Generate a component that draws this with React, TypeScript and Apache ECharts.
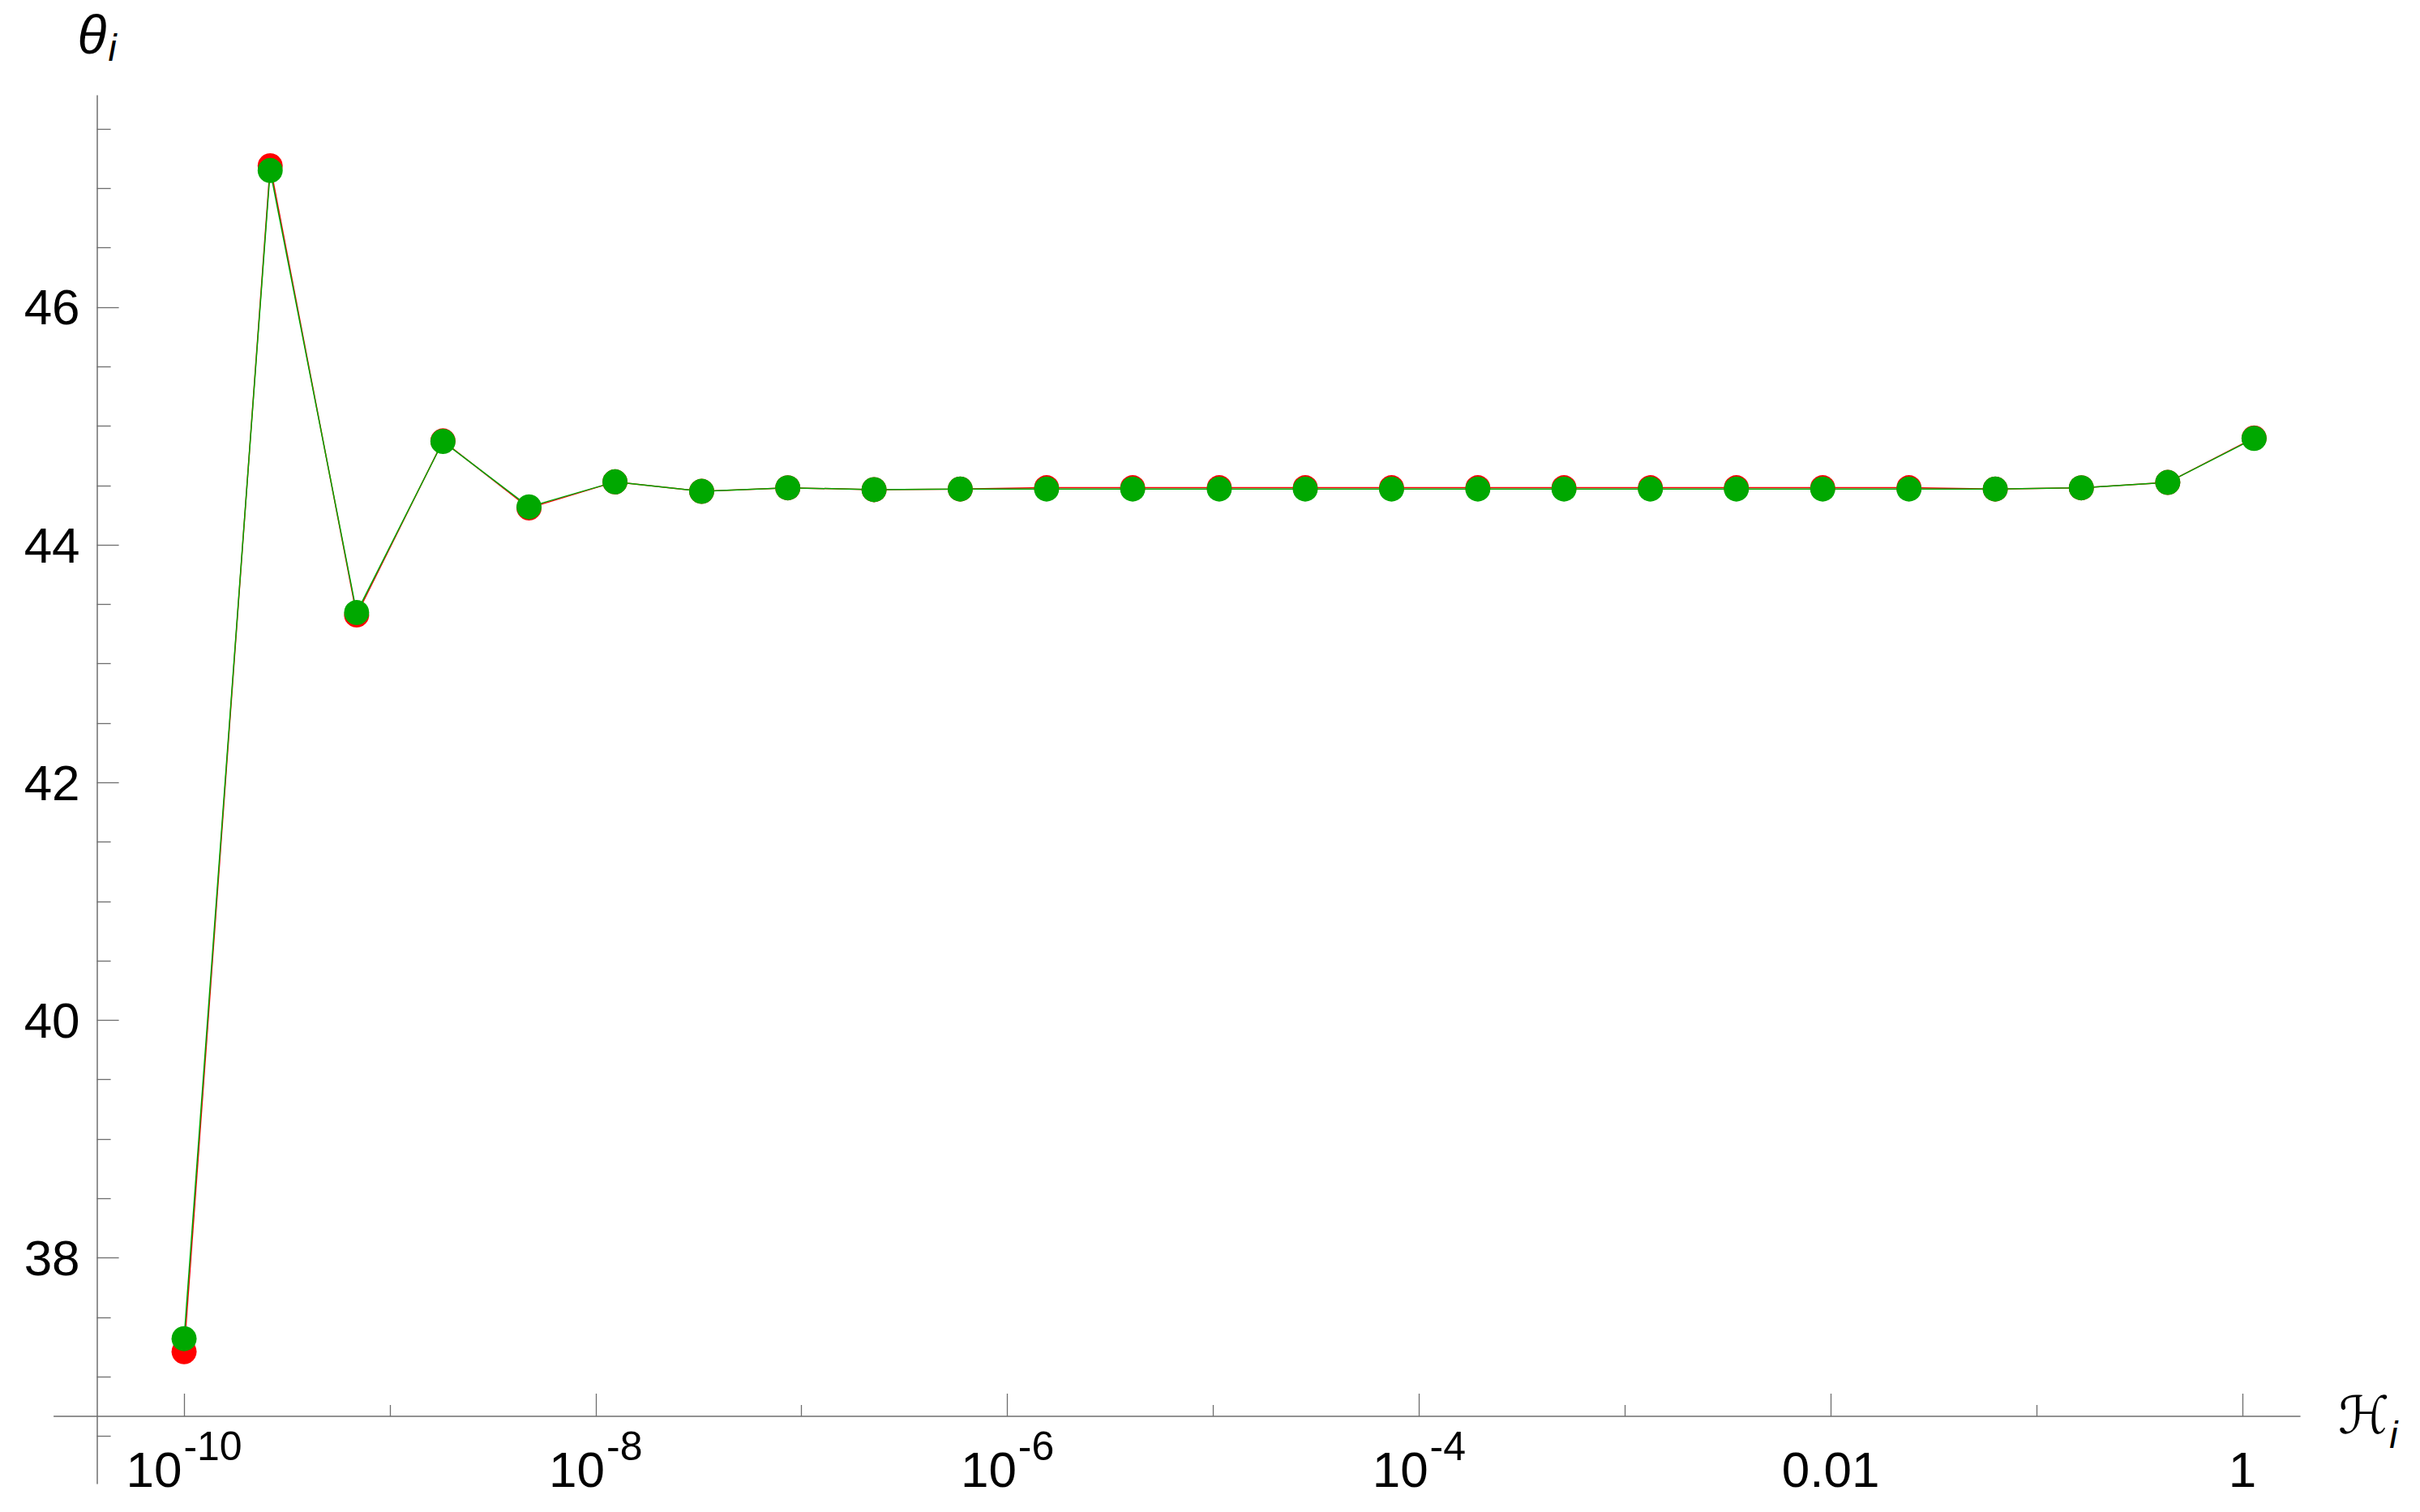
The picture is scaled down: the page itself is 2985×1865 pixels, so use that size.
import React, { useEffect, useRef } from "react";
import * as echarts from "echarts";

// Abscissa values H_i (log scale)
const H_VALUES = [
  1e-10, 2.62e-10, 6.89e-10, 1.81e-9, 4.74e-9, 1.24e-8, 3.27e-8, 8.57e-8,
  2.25e-7, 5.9e-7, 1.55e-6, 4.06e-6, 1.07e-5, 2.8e-5, 7.35e-5, 1.93e-4,
  5.06e-4, 1.33e-3, 3.48e-3, 9.14e-3, 0.024, 0.063, 0.165, 0.434, 1.14,
];

// theta_i, red series
const THETA_RED = [
  37.21, 47.19, 43.41, 44.875, 44.31, 44.53, 44.45, 44.48, 44.465, 44.47,
  44.481, 44.481, 44.481, 44.481, 44.481, 44.481, 44.481, 44.481, 44.481,
  44.481, 44.481, 44.47, 44.48, 44.525, 44.9,
];

// theta_i, green series
const THETA_GREEN = [
  37.32, 47.15, 43.43, 44.87, 44.32, 44.53, 44.45, 44.48, 44.465, 44.47,
  44.47, 44.47, 44.47, 44.47, 44.47, 44.47, 44.47, 44.47, 44.47, 44.47,
  44.47, 44.47, 44.48, 44.525, 44.895,
];

const X_MAJOR_TICKS = [1e-10, 1e-8, 1e-6, 1e-4, 1e-2, 1];
const X_MINOR_TICKS = [1e-9, 1e-7, 1e-5, 1e-3, 1e-1];
const Y_MAJOR_TICKS = [38, 40, 42, 44, 46];
const Y_MINOR_TICKS = [
  36.5, 37, 37.5, 38.5, 39, 39.5, 40.5, 41, 41.5, 42.5, 43, 43.5, 44.5, 45,
  45.5, 46.5, 47, 47.5,
];

const X_MIN = Math.pow(10, -10.632);
const X_MAX = Math.pow(10, 0.28);
const Y_MIN = 36.1;
const Y_MAX = 47.78;

const AXIS_COLOR = "#6e6e6e";
const RED = "#ff0000";
const GREEN = "#00a800";
const LABEL_FONT = "'Liberation Sans', Arial, sans-serif";

export default function App() {
  const ref = useRef<HTMLDivElement>(null);

  useEffect(() => {
    if (!ref.current) return;
    const chart = echarts.init(ref.current, undefined, { renderer: "svg" });

    const xLabelFormatter = (v: number) => {
      const e = Math.round(Math.log10(v));
      if (e === -2) return "{b|0.01}";
      if (e === 0) return "{b|1}";
      return `{b|10}{s|${e}}`;
    };

    const commonX = {
      type: "log",
      logBase: 10,
      min: X_MIN,
      max: X_MAX,
      position: "bottom",
      offset: -83,
      splitLine: { show: false },
      minorTick: { show: false },
      minorSplitLine: { show: false },
    };

    const commonY = {
      type: "value",
      min: Y_MIN,
      max: Y_MAX,
      position: "left",
      offset: -53,
      splitLine: { show: false },
      minorTick: { show: false },
    };

    const option: any = {
      animation: false,
      backgroundColor: "#ffffff",
      grid: {
        left: 66.6,
        right: 148,
        top: 118,
        bottom: 35,
        containLabel: false,
        outerBoundsMode: "none",
      },
      xAxis: [
        {
          ...commonX,
          axisLine: { show: true, lineStyle: { color: AXIS_COLOR, width: 1.5 } },
          axisTick: {
            show: true,
            inside: true,
            length: 28,
            customValues: X_MAJOR_TICKS,
            lineStyle: { color: AXIS_COLOR, width: 1.3 },
          },
          axisLabel: {
            show: true,
            customValues: X_MAJOR_TICKS,
            formatter: xLabelFormatter,
            margin: 12,
            color: "#000",
            verticalAlign: "top",
            rich: {
              b: {
                fontSize: 62,
                fontFamily: LABEL_FONT,
                color: "#000",
                verticalAlign: "top",
                padding: [22, 0, 0, 0],
              },
              s: {
                fontSize: 50,
                fontFamily: LABEL_FONT,
                color: "#000",
                verticalAlign: "top",
                padding: [0, 0, 0, 2],
              },
            },
          },
          name: "{h|ℋ}{i|i}",
          nameLocation: "end",
          nameGap: 47,
          nameTextStyle: {
            rich: {
              h: {
                fontSize: 64,
                fontFamily: "'DejaVu Serif', 'DejaVu Sans', serif",
                fontStyle: "italic",
                color: "#000",
                verticalAlign: "top",
                padding: [13, 0, 0, 0],
              },
              i: {
                fontSize: 46,
                fontFamily: LABEL_FONT,
                fontStyle: "italic",
                color: "#000",
                verticalAlign: "top",
                padding: [46, 0, 0, 0],
              },
            },
          },
        },
        {
          ...commonX,
          axisLine: { show: false },
          axisTick: {
            show: true,
            inside: true,
            length: 14,
            customValues: X_MINOR_TICKS,
            lineStyle: { color: AXIS_COLOR, width: 1.3 },
          },
          axisLabel: { show: false },
        },
      ],
      yAxis: [
        {
          ...commonY,
          axisLine: { show: true, lineStyle: { color: AXIS_COLOR, width: 1.5 } },
          axisTick: {
            show: true,
            inside: true,
            length: 27,
            customValues: Y_MAJOR_TICKS,
            lineStyle: { color: AXIS_COLOR, width: 1.3 },
          },
          axisLabel: {
            show: true,
            customValues: Y_MAJOR_TICKS,
            margin: 21,
            fontSize: 62,
            fontFamily: LABEL_FONT,
            color: "#000",
          },
          name: "{t|θ}{i|i}",
          nameLocation: "end",
          nameGap: 36,
          nameTextStyle: {
            rich: {
              t: {
                fontSize: 66,
                fontFamily: LABEL_FONT,
                fontStyle: "italic",
                color: "#000",
                verticalAlign: "top",
                padding: [0, 2, 0, 0],
              },
              i: {
                fontSize: 46,
                fontFamily: LABEL_FONT,
                fontStyle: "italic",
                color: "#000",
                verticalAlign: "top",
                padding: [26, 0, 0, 0],
              },
            },
          },
        },
        {
          ...commonY,
          axisLine: { show: false },
          axisTick: {
            show: true,
            inside: true,
            length: 17,
            customValues: Y_MINOR_TICKS,
            lineStyle: { color: AXIS_COLOR, width: 1.3 },
          },
          axisLabel: { show: false },
        },
      ],
      series: [
        {
          name: "red",
          type: "line",
          xAxisIndex: 0,
          yAxisIndex: 0,
          data: H_VALUES.map((h, i) => [h, THETA_RED[i]]),
          symbol: "circle",
          symbolSize: 31,
          showSymbol: true,
          lineStyle: { color: RED, width: 1.5 },
          itemStyle: { color: RED },
        },
        {
          name: "green",
          type: "line",
          xAxisIndex: 0,
          yAxisIndex: 0,
          data: H_VALUES.map((h, i) => [h, THETA_GREEN[i]]),
          symbol: "circle",
          symbolSize: 31,
          showSymbol: true,
          lineStyle: { color: GREEN, width: 1.5 },
          itemStyle: { color: GREEN },
        },
      ],
    };

    chart.setOption(option);
    return () => chart.dispose();
  }, []);

  return (
    <div
      ref={ref}
      style={{ position: "absolute", left: 0, top: 0, width: 2985, height: 1865, background: "#fff" }}
    />
  );
}
